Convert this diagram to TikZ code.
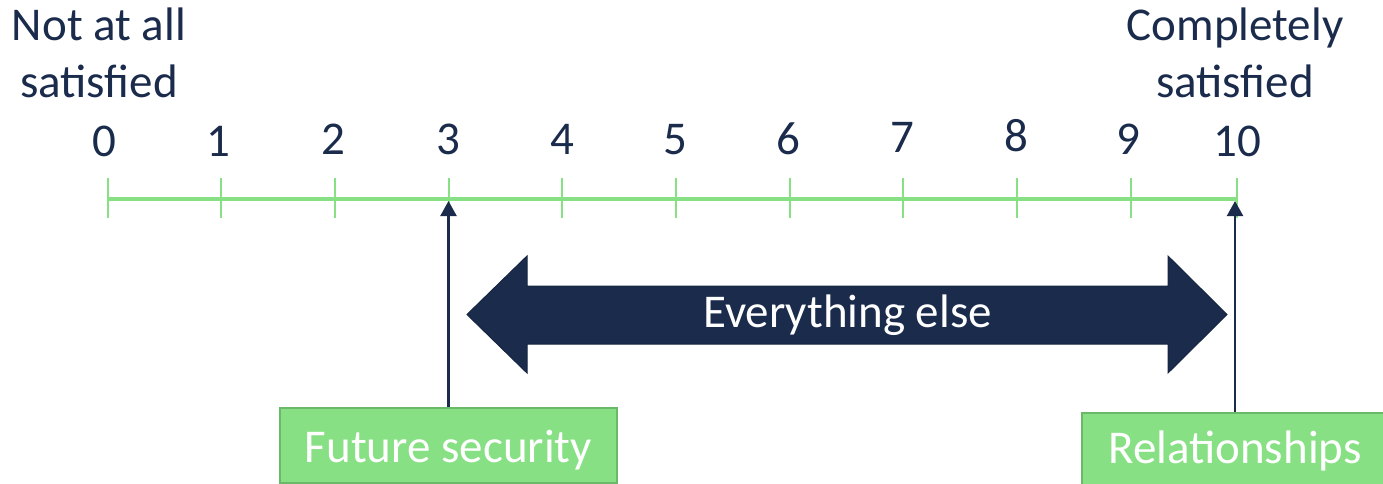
\documentclass[tikz,border=0pt]{standalone}
\usepackage{fontspec}
\setmainfont{Carlito}
\usepackage{xcolor}
\usepackage{tikz}
\usetikzlibrary{arrows.meta,positioning}
\definecolor{navy}{HTML}{1A2B4C}
\definecolor{scalegreen}{HTML}{88E085}
\definecolor{boxedge}{HTML}{6CB86A}

\begin{document}
\begin{tikzpicture}[
  x=1pt, y=-1pt,
  lab/.style ={font=\fontsize{47}{57}\selectfont, text=navy, align=center, inner sep=0pt},
  num/.style ={font=\fontsize{47}{54}\selectfont, text=navy, inner sep=0pt, anchor=base},
  item/.style={draw=boxedge, line width=1.5pt, fill=scalegreen, text=white, inner sep=0pt, text depth=0pt, font=\fontsize{47}{54}\selectfont},
  ptr/.style ={-{Triangle[length=15pt, width=16pt]}, line width=2.2pt, navy, shorten >=2pt},
]
  \useasboundingbox (0,0) rectangle (1383,484);
  \clip (0,0) rectangle (1383,484);

  % scale
  \foreach \i/\x in {0/108,1/221,2/335,3/449,4/562,5/676,6/790,7/903,8/1017,9/1131,10/1237} {
    \coordinate (t\i) at (\x,199);
    \draw[scalegreen, line width=1.5pt] (\x,178) -- (\x,218);
  }
  \draw[scalegreen, line width=4pt] (t0) -- (t10);

  \foreach \i/\x/\y in {0/104/157,1/218/156,2/333/154,3/448/154,4/562/154,5/675/154,6/788/154,7/902/152,8/1016/151,9/1128/154,10/1237/157}
    \node[num] (n\i) at (\x,\y) {\i};

  \node[lab, anchor=base] (low)  at (99,98)   {Not at all\\satisfied};
  \node[lab, anchor=base] (high) at (1235,98) {Completely\\satisfied};

  % range arrow
  \filldraw[fill=navy, draw=navy!85!black, line width=1pt]
    (467,314.5) -- (527,256) -- (527,286) -- (1168,286) -- (1168,256) -- (1227,314.5)
    -- (1168,373) -- (1168,344) -- (527,344) -- (527,373) -- cycle;
  \node[lab, text=white, anchor=base] (rest) at (847.5,327) {Everything else};

  \node[item, minimum width=337, minimum height=75, text height=33pt] (fut) at (448.5,445.5) {Future security};
  \node[item, minimum width=306, minimum height=75, text height=25pt] (rel) at (1235,450.5) {Relationships};

  \draw[ptr] (fut.north) -- (fut.north |- t3);
  \draw[ptr] (rel.north) -- (rel.north |- t10);
\end{tikzpicture}
\end{document}
